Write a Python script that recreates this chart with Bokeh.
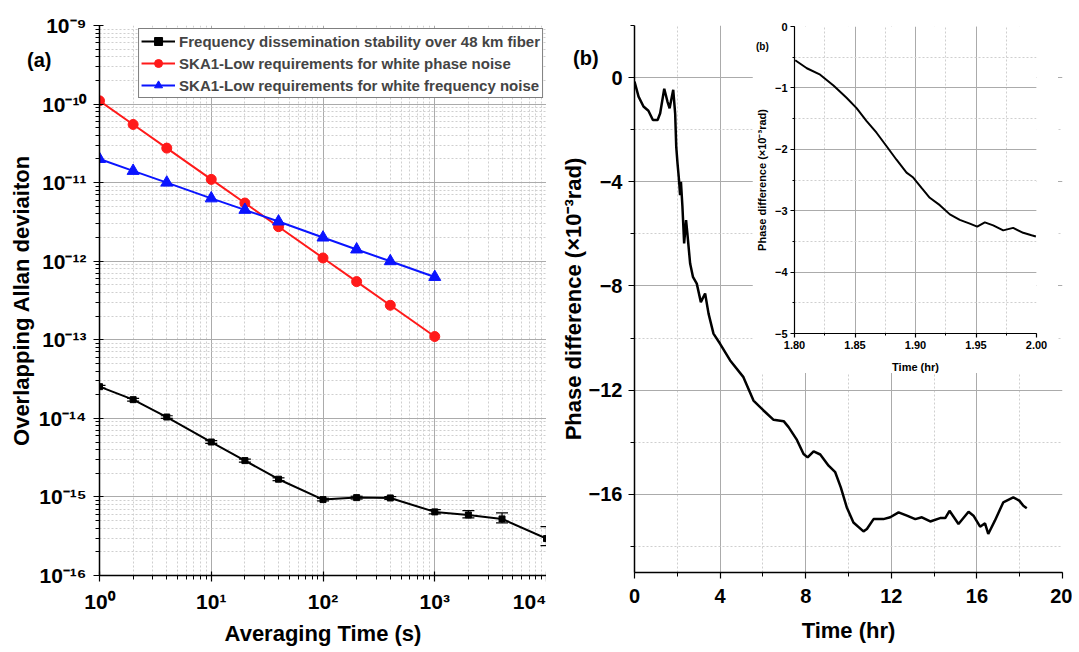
from bokeh.plotting import figure
from bokeh.layouts import row
from bokeh.models import (FixedTicker, SingleIntervalTicker, Legend, LegendItem, Whisker, TeeHead,
                          ColumnDataSource, PrintfTickFormatter, Range1d, Div)
from bokeh.embed import file_html
from bokeh.resources import INLINE

# ---------------- data (a) ----------------
tau_fiber = [1, 2, 4, 10, 20, 40, 100, 200, 400, 1000, 2000, 4000, 10000]
adev_fiber = [2.53e-14, 1.73e-14, 1.04e-14, 5.0e-15, 2.9e-15, 1.68e-15, 9.25e-16,
              9.8e-16, 9.7e-16, 6.45e-16, 5.9e-16, 5.25e-16, 2.95e-16]
adev_fiber_hi = [2.63e-14, 1.80e-14, 1.08e-14, 5.2e-15, 3.02e-15, 1.75e-15, 9.6e-16,
                 1.02e-15, 1.01e-15, 6.9e-16, 6.7e-16, 6.26e-16, 4.2e-16]
adev_fiber_lo = [2.43e-14, 1.66e-14, 1.0e-14, 4.8e-15, 2.78e-15, 1.61e-15, 8.9e-16,
                 9.4e-16, 9.3e-16, 6.08e-16, 5.4e-16, 4.67e-16, 2.4e-16]

tau_req = [1, 2, 4, 10, 20, 40, 100, 200, 400, 1000]
adev_wpn = [1.1e-10, 5.5e-11, 2.75e-11, 1.1e-11, 5.5e-12, 2.75e-12, 1.1e-12, 5.5e-13, 2.75e-13, 1.1e-13]
adev_wfn = [2.0e-11, 1.41e-11, 1.0e-11, 6.3e-12, 4.5e-12, 3.2e-12, 2.0e-12, 1.41e-12, 1.0e-12, 6.3e-13]

legend_labels = ["Frequency dissemination stability over 48 km fiber",
                 "SKA1-Low requirements for white phase noise",
                 "SKA1-Low requirements for white frequency noise"]

x_major_a = [1, 10, 100, 1000, 10000]
x_labels_a = ["10⁰", "10¹", "10²", "10³", "10⁴"]
y_major_a = [1e-16, 1e-15, 1e-14, 1e-13, 1e-12, 1e-11, 1e-10, 1e-9]
y_labels_a = ["10⁻¹⁶", "10⁻¹⁵", "10⁻¹⁴", "10⁻¹³", "10⁻¹²", "10⁻¹¹", "10⁻¹⁰", "10⁻⁹"]

# ---------------- data (b) ----------------
t_hr = [0.0, 0.19, 0.42, 0.65, 0.86, 1.08, 1.2, 1.39, 1.54, 1.64, 1.81, 1.9, 1.95, 2.01, 2.08,
        2.13, 2.17, 2.24, 2.32, 2.41, 2.47, 2.6, 2.73, 2.91, 3.1, 3.3, 3.46, 3.69, 4.0, 4.47,
        5.09, 5.56, 6.03, 6.5, 6.97, 7.2, 7.59, 7.9, 8.09, 8.37, 8.68, 9.07, 9.38, 9.64, 9.92,
        10.23, 10.7, 10.86, 11.17, 11.63, 11.95, 12.34, 12.73, 13.12, 13.43, 13.82, 14.28, 14.52,
        14.72, 15.14, 15.61, 15.84, 16.15, 16.38, 16.53, 16.84, 17.23, 17.7, 17.98, 18.17, 18.33]
phase = [-0.15, -0.73, -1.11, -1.27, -1.63, -1.63, -1.37, -0.43, -0.92, -1.18, -0.47, -1.38, -2.65,
         -3.29, -3.93, -4.51, -4.0, -4.96, -6.37, -5.47, -5.98, -7.14, -7.65, -7.91, -8.62, -8.29,
         -9.06, -9.83, -10.22, -10.86, -11.5, -12.4, -12.78, -13.14, -13.19, -13.42, -13.91, -14.45,
         -14.58, -14.35, -14.47, -14.9, -15.15, -15.73, -16.5, -17.08, -17.42, -17.33, -16.95, -16.95,
         -16.88, -16.69, -16.82, -16.95, -16.88, -17.04, -16.91, -16.91, -16.63, -17.14, -16.67,
         -16.82, -17.24, -17.11, -17.52, -17.01, -16.31, -16.12, -16.24, -16.44, -16.53]

t_inset = [1.8006, 1.8102, 1.8212, 1.8322, 1.843, 1.8513, 1.8596, 1.8678, 1.8761, 1.8843, 1.8926,
           1.8981, 1.905, 1.9118, 1.9201, 1.9284, 1.9366, 1.9449, 1.951, 1.9573, 1.9642, 1.9725,
           1.9807, 1.989, 1.9959, 1.9995]
phase_inset = [-0.55, -0.68, -0.785, -0.96, -1.16, -1.33, -1.54, -1.73, -1.95, -2.17, -2.38, -2.46,
               -2.63, -2.79, -2.91, -3.06, -3.15, -3.21, -3.26, -3.19, -3.24, -3.32, -3.28, -3.36,
               -3.40, -3.42]

FONT = "Liberation Sans"
MAJ_GRID = "#ababab"
MIN_GRID = "#cfcfcf"


def style_axes(p, tick_size, label_size):
    for ax in (p.xaxis, p.yaxis):
        ax.axis_line_color = "black"
        ax.axis_line_width = 1.5
        ax.major_tick_line_color = "black"
        ax.minor_tick_line_color = "black"
        ax.major_tick_line_width = 1.2
        ax.minor_tick_line_width = 1
        ax.major_label_text_font = FONT
        ax.major_label_text_font_style = "bold"
        ax.major_label_text_font_size = tick_size
        ax.major_label_text_color = "black"
        ax.axis_label_text_font = FONT
        ax.axis_label_text_font_style = "bold"
        ax.axis_label_text_font_size = label_size
        ax.axis_label_text_color = "black"
    for g in (p.xgrid, p.ygrid):
        g.grid_line_color = MAJ_GRID
        g.grid_line_width = 1
        g.minor_grid_line_color = MIN_GRID
        g.minor_grid_line_dash = "2 2"
        g.minor_grid_line_width = 1
    p.outline_line_color = None


def tag(text, left, top, size):
    return Div(text=text, width=50, height=int(size * 1.4),
               styles={"position": "absolute", "left": f"{left}px", "top": f"{top}px",
                       "z-index": "6", "font-family": FONT, "font-weight": "bold",
                       "font-size": f"{size}px", "color": "black", "line-height": "1.2"})


# ---------------- panel (a) ----------------
pa = figure(frame_width=447, frame_height=550, x_axis_type="log", y_axis_type="log",
            x_range=Range1d(1, 10000), y_range=Range1d(1e-16, 1e-9),
            output_backend="svg", toolbar_location=None,
            min_border_left=99, min_border_right=0, min_border_top=21, min_border_bottom=81)
style_axes(pa, "21px", "22px")
x_minor_a = [m * 10 ** e for e in range(0, 4) for m in range(2, 10)]
y_minor_a = [m * 10.0 ** e for e in range(-16, -9) for m in range(2, 10)]
pa.xaxis.ticker = FixedTicker(ticks=x_major_a, minor_ticks=x_minor_a)
pa.yaxis.ticker = FixedTicker(ticks=y_major_a, minor_ticks=y_minor_a)
pa.xaxis.major_label_overrides = dict(zip(x_major_a, x_labels_a))
pa.yaxis.major_label_overrides = dict(zip(y_major_a, y_labels_a))
pa.xaxis.axis_label = "Averaging Time (s)"
pa.yaxis.axis_label = "Overlapping Allan deviaiton"
for ax in (pa.xaxis, pa.yaxis):
    ax.major_tick_in = 4
    ax.major_tick_out = 6
    ax.minor_tick_in = 0
    ax.minor_tick_out = 4
pa.xaxis.major_label_standoff = 8
pa.xaxis.axis_label_standoff = 5
pa.yaxis.major_label_standoff = 7
pa.yaxis.axis_label_standoff = 2

src_f = ColumnDataSource(dict(x=tau_fiber, y=adev_fiber, hi=adev_fiber_hi, lo=adev_fiber_lo))
wh = Whisker(base="x", upper="hi", lower="lo", source=src_f, line_color="black", line_width=1.2,
             upper_head=TeeHead(size=12, line_color="black", line_width=1.2),
             lower_head=TeeHead(size=12, line_color="black", line_width=1.2))
pa.add_layout(wh)
l_f = pa.line("x", "y", source=src_f, line_color="black", line_width=2)
m_f = pa.scatter("x", "y", source=src_f, marker="square", size=6, color="black")

l_r = pa.line(tau_req, adev_wpn, line_color="#ff1a1a", line_width=2)
m_r = pa.scatter(tau_req, adev_wpn, marker="circle", size=10, color="#ff1a1a")
l_b = pa.line(tau_req, adev_wfn, line_color="#0a14ff", line_width=2)
m_b = pa.scatter(tau_req, adev_wfn, marker="triangle", size=12, color="#0a14ff")

leg = Legend(items=[LegendItem(label=legend_labels[0], renderers=[l_f, m_f]),
                    LegendItem(label=legend_labels[1], renderers=[l_r, m_r]),
                    LegendItem(label=legend_labels[2], renderers=[l_b, m_b])],
             location="top_right", margin=3, padding=2, spacing=2,
             label_text_font=FONT, label_text_font_style="bold", label_text_font_size="15px",
             label_height=20, glyph_height=20, glyph_width=34, label_standoff=4,
             border_line_color="black", border_line_width=1.5, background_fill_alpha=1)
pa.add_layout(leg)

# ---------------- panel (b) ----------------
pb = figure(frame_width=428, frame_height=547, x_range=Range1d(0, 20), y_range=Range1d(-19, 2),
            output_backend="svg", toolbar_location=None,
            min_border_left=88, min_border_right=10, min_border_top=25, min_border_bottom=80)
style_axes(pb, "20px", "22px")
pb.xaxis.ticker = SingleIntervalTicker(interval=4, num_minor_ticks=2)
pb.yaxis.ticker = SingleIntervalTicker(interval=4, num_minor_ticks=2)
pb.xaxis.axis_label = "Time (hr)"
pb.yaxis.axis_label = "Phase difference (×10⁻³rad)"
for ax in (pb.xaxis, pb.yaxis):
    ax.major_tick_in = 0
    ax.major_tick_out = 6
    ax.minor_tick_in = 0
    ax.minor_tick_out = 4
pb.xaxis.major_label_standoff = 10
pb.xaxis.axis_label_standoff = 12
pb.yaxis.major_label_standoff = 6
pb.yaxis.axis_label_standoff = 0
pb.line(t_hr, phase, line_color="black", line_width=2.5)

# ---------------- inset ----------------
pin = figure(frame_width=242, frame_height=307, x_range=Range1d(1.8, 2.0), y_range=Range1d(-5, 0),
             output_backend="svg", toolbar_location=None,
             min_border_left=39, min_border_right=22, min_border_top=17, min_border_bottom=48,
             styles={"position": "absolute", "left": "752px", "top": "1px", "z-index": "5"})
style_axes(pin, "11px", "11px")
pin.xaxis.ticker = SingleIntervalTicker(interval=0.05, num_minor_ticks=2)
pin.yaxis.ticker = SingleIntervalTicker(interval=1, num_minor_ticks=2)
pin.xaxis.formatter = PrintfTickFormatter(format="%.2f")
pin.xaxis.axis_label = "Time (hr)"
pin.yaxis.axis_label = "Phase difference (×10⁻³rad)"
for ax in (pin.xaxis, pin.yaxis):
    ax.axis_line_width = 1.2
    ax.major_tick_in = 0
    ax.major_tick_out = 4
    ax.minor_tick_in = 0
    ax.minor_tick_out = 2
    ax.major_label_standoff = 3
    ax.axis_label_standoff = 4
pin.xaxis.axis_label_standoff = 9
pin.line(t_inset, phase_inset, line_color="black", line_width=2)

tag_a = tag("(a)", 22, 43, 20)
tag_b = tag("(b)", 568, 41, 20)
tag_bi = tag("(b)", 751, 36, 10)

layout = row(pa, pb, pin, tag_a, tag_b, tag_bi)
open("out.html", "w").write(file_html(layout, INLINE))
